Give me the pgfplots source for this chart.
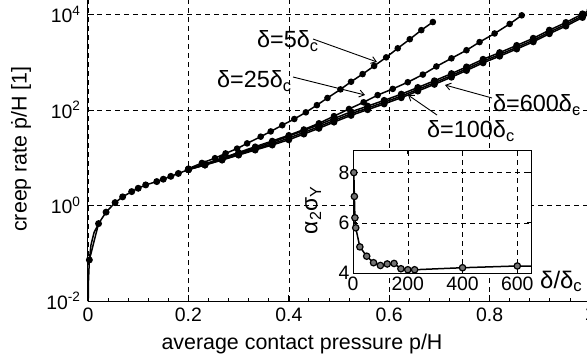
\documentclass[border=0pt]{standalone}
\usepackage{pgfplots}
\pgfplotsset{compat=1.18}
\usetikzlibrary{arrows.meta}
\usepackage{fontspec}
\setmainfont{Liberation Sans}
\newcommand{\sub}[1]{\textsubscript{#1}}
\begin{document}
\begin{tikzpicture}
\begin{axis}[
  at={(0bp,0bp)}, anchor=south west,
  scale only axis, width=502bp, height=301bp,
  xmin=0, xmax=1, ymin=1e-2, ymax=2e4, ymode=log,
  axis x line*=bottom, axis y line*=left,
  axis line style={-, line width=1bp, black},
  xtick={0,0.2,0.4,0.6,0.8,1}, xticklabels={0,0.2,0.4,0.6,0.8,1},
  minor x tick num=4,
  ytick={1e-2,1,1e2,1e4},
  yticklabels={10\textsuperscript{-2},10\textsuperscript{0},10\textsuperscript{2},10\textsuperscript{4}},
  yminorticks=false,
  grid=major,
  major grid style={black, line width=0.5bp, dash pattern=on 5bp off 4bp},
  tick style={black, line width=0.8bp},
  major tick length=6bp, minor tick length=3.5bp,
  ticklabel style={font=\fontsize{19.5}{22}\selectfont},
  xticklabel style={yshift=-3bp},
  yticklabel style={xshift=-4bp},
  every axis plot/.append style={black, line width=1.5bp},
]
% steep start (shared by all curves)
\addplot[no marks] coordinates {
(0.0003,0.008) (0.001,0.027) (0.0027,0.0724) (0.006,0.15) (0.012,0.27) (0.021,0.417)};
% shared low part
\addplot[mark=*, mark size=2.7bp] coordinates {
(0.0027,0.0724) (0.021,0.417) (0.036,0.724) (0.054,1.148) (0.069,1.514) (0.087,1.950)
(0.10,2.291) (0.115,2.692) (0.137,3.162) (0.15,3.548) (0.165,4.074) (0.18,4.677) (0.2,5.623)};
% delta = 600
\addplot[mark=*, mark size=2.7bp] coordinates {
(0.2,5.623) (0.233,7.00) (0.267,8.913) (0.30,11.35) (0.333,14.45) (0.367,18.41) (0.40,23.71)
(0.43,31.26) (0.46,41.21) (0.49,55.59) (0.524,76.74) (0.557,101.2) (0.59,133.4) (0.624,179.9)
(0.657,248.3) (0.69,342.8) (0.724,484.2) (0.754,668.3) (0.787,966.1) (0.82,1334) (0.854,1884)
(0.887,2661) (0.919,3936) (0.952,5689) (0.985,8610) (1.0,10350)};
% delta = 200
\addplot[mark=*, mark size=2.7bp] coordinates {
(0.2,5.623) (0.233,7.079) (0.267,9.120) (0.30,11.75) (0.333,15.14) (0.367,19.50) (0.40,25.70)
(0.43,33.88) (0.46,44.67) (0.49,60.26) (0.524,83.18) (0.557,109.6) (0.59,144.5) (0.624,195.0)
(0.657,269.2) (0.69,371.5) (0.724,524.8) (0.754,724.4) (0.787,1047) (0.82,1445) (0.854,2042)
(0.887,2884) (0.919,4266) (0.952,6166) (0.985,9333) (1.0,11220)};
% delta = 100
\addplot[mark=*, mark size=2.7bp] coordinates {
(0.2,5.623) (0.233,7.244) (0.267,9.44) (0.30,12.30) (0.333,16.03) (0.367,20.89) (0.40,28.18)
(0.43,37.15) (0.46,48.98) (0.49,66.07) (0.524,91.20) (0.557,120.2) (0.59,158.5) (0.624,213.8)
(0.657,295.1) (0.69,407.4) (0.724,575.4) (0.754,794.3) (0.787,1148) (0.82,1585) (0.854,2239)
(0.887,3162) (0.919,4677) (0.952,6761) (0.985,10230) (1.0,12300)};
% delta = 25
\addplot[mark=*, mark size=2.5bp] coordinates {
(0.2,5.754) (0.233,7.413) (0.267,9.772) (0.30,12.88) (0.333,16.98) (0.367,22.39) (0.40,29.51)
(0.43,38.90) (0.46,52.48) (0.49,74.13) (0.52,104.7) (0.549,144.5) (0.577,204.2) (0.607,275.4)
(0.637,380.2) (0.667,549.5) (0.694,812.8) (0.724,1202) (0.754,1778) (0.78,2630) (0.81,3981)
(0.84,6310) (0.864,9550)};
% delta = 5
\addplot[mark=*, mark size=2.5bp] coordinates {
(0.2,5.888) (0.227,7.762) (0.253,9.772) (0.274,12.30) (0.297,15.49) (0.317,19.95) (0.344,27.54)
(0.364,35.48) (0.387,47.86) (0.411,64.57) (0.434,89.13) (0.456,125.9) (0.477,177.8) (0.503,269.2)
(0.524,389.0) (0.547,562.3) (0.57,831.8) (0.594,1259) (0.617,1950) (0.641,3020) (0.664,4677)
(0.687,6918)};
\end{axis}

% inset
\begin{axis}[
  at={(265bp,28bp)}, anchor=south west,
  scale only axis, width=178bp, height=123bp,
  xmin=0, xmax=650, ymin=4, ymax=8.9,
  xtick={0,200,400,600}, xticklabels={0,200,400,600},
  ytick={4,6,8}, yticklabels={4,6,8},
  grid=major,
  major grid style={black, line width=0.5bp, dash pattern=on 5bp off 4bp},
  axis background/.style={fill=white},
  axis line style={line width=1bp, black},
  tick style={black, line width=0.8bp},
  major tick length=4bp,
  ticklabel style={font=\fontsize{19.5}{22}\selectfont},
]
\addplot[black, line width=1.5bp, mark=*, mark size=3.2bp, mark options={line width=1.2bp, draw=black, fill=black!55}] coordinates {
(3,8.0) (5,7.05) (7,6.2) (10,5.8) (25,5.04) (50,4.67) (75,4.41) (100,4.30) (125,4.36) (150,4.38)
(175,4.17) (200,4.13) (225,4.13) (400,4.21) (600,4.28) (1000,4.22)};
\end{axis}

% labels
\node[rotate=90, font=\fontsize{21.5}{25}\selectfont] at (-67bp,152bp) {creep rate ṗ/H [1]};
\node[anchor=base, font=\fontsize{21.5}{25}\selectfont] at (214bp,-48bp) {average contact pressure p/H};
\node[rotate=90, font=\fontsize{23}{26}\selectfont] at (225bp,91bp) {α\sub{2}σ\sub{Y}};
\node[anchor=base west, font=\fontsize{24}{27}\selectfont, inner sep=0pt] at (452bp,13bp) {δ/δ\sub{c}};

% annotations
\node[anchor=base west, font=\fontsize{23.5}{27}\selectfont, inner sep=0pt] at (169bp,253bp) {δ=5δ\sub{c}};
\node[anchor=base west, font=\fontsize{23.5}{27}\selectfont, inner sep=0pt] at (129bp,213bp) {δ=25δ\sub{c}};
\node[anchor=base west, font=\fontsize{23.5}{27}\selectfont, inner sep=0pt] at (405bp,189bp) {δ=600δ\sub{c}};
\node[anchor=base west, font=\fontsize{23.5}{27}\selectfont, inner sep=0pt] at (339bp,163bp) {δ=100δ\sub{c}};
\begin{scope}[line width=0.9bp, -{Straight Barb[length=5bp,width=7bp]}]
\draw (225bp,262bp) -- (289bp,239bp);
\draw (205bp,224bp) -- (277bp,206bp);
\draw (404bp,203bp) -- (357bp,216bp);
\draw (349bp,186bp) -- (320bp,206bp);
\end{scope}

\pgfresetboundingbox
\path (-88bp,-60bp) rectangle (499bp,301bp);
\end{tikzpicture}
\end{document}
